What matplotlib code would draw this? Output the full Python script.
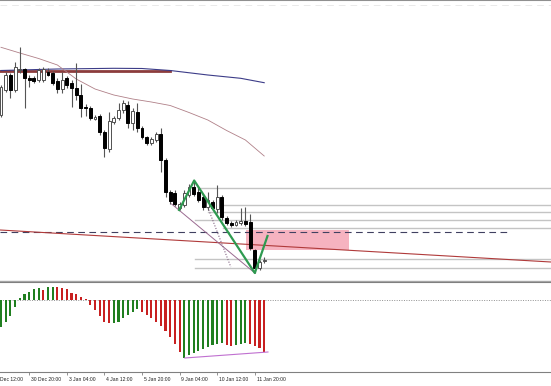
import matplotlib
matplotlib.use("Agg")
import matplotlib.pyplot as plt
import matplotlib.transforms as mtransforms
from matplotlib import font_manager
from matplotlib.patches import Rectangle
import numpy as np

# H4 candles, values (chart units, 0 = top of price pane)
opens = [115, 90, 75, 90, 70, 69, 77.5, 78, 80, 80, 71.5, 73, 81, 89, 78, 83, 88, 95, 107, 108,
         119, 116, 132, 149, 122, 118, 110, 105, 123, 112, 128, 137, 143, 140, 134, 160, 192, 193,
         208, 205, 195, 187, 192, 197, 207, 202, 209, 197, 218, 223, 225, 223, 221, 222, 250, 268, 260]
highs = [85, 72, 73, 62, 47, 68, 75, 76, 68, 67, 68, 71, 78, 72, 76, 80, 63, 84, 104, 106,
         115, 114, 130, 112, 116, 103, 100, 101, 108, 103, 126, 136, 137, 132, 128, 158, 190, 190,
         202, 190, 184, 180, 187, 195, 192, 200, 185, 195, 216, 221, 220, 208, 207, 214, 249, 260, 257]
lows = [117, 92, 98, 92, 73, 108, 87, 83, 82, 82, 76, 85, 93, 93, 88, 107, 100, 117, 116, 120,
        120, 135, 157, 152, 124, 120, 113, 128, 130, 132, 139, 145, 145, 142, 172, 197, 204, 206,
        210, 207, 197, 196, 202, 210, 210, 210, 213, 220, 225, 227, 226, 225, 226, 250, 273, 270, 263]
closes = [87, 75, 90, 67, 69, 78, 80, 81, 70, 69, 75, 83, 89, 80, 85, 88, 95, 108, 108, 118,
          117, 132, 148, 121, 118, 110, 103, 123, 111, 128, 137, 143, 139, 134, 160, 192, 201, 204,
          204, 193, 187, 194, 200, 207, 200, 208, 197, 217, 223, 225, 222, 221, 224, 248, 268, 262, 260]

# oscillator histogram (zero line = 0, up is positive)
osc = [-26.7, -21.7, -16, -7, 2, 6, 8.3, 10.7, 11.7, 10, 13.3, 13.5, 12.7, 11.7, 10.7, 7.3, 6, 3.3, 1,
       -5, -10, -15.7, -21.7, -23, -22.8, -21.7, -18, -15, -11.7, -9, -12, -15, -18, -22, -26, -31,
       -37, -44, -52, -58, -55, -53, -51, -49, -47, -45, -44, -43, -45, -45.7, -45, -44, -43, -44,
       -45.7, -48.3, -51.7]
osc_colors = "GGGGGGGGGRGGRRRRRRRRRRRRGGGGGGRRRRRRRRRGGGGGGGGGRRGGGRRRR"

# moving averages
ma_slow_x = [0, 12, 24, 30, 36, 44, 51, 56]
ma_slow_y = [70.5, 69, 68.3, 68.5, 70.5, 75, 78.3, 82.7]
ma_mid_x = [0, 4, 8, 12, 16, 20, 24, 28, 32, 36, 40, 44, 48, 52, 56]
ma_mid_y = [47.3, 53, 58.5, 65, 79, 89, 95, 99, 102, 105.5, 112.5, 120, 130.5, 140, 156]
flat_x = [-0.2, 36]
flat_y = [70.5, 70.5]

# drawn objects
trend_x = [-0.2, 117]
trend_y = [230, 262]
dash_x = [-0.2, 108.3]
dash_y = [231.5, 231.5]
level_y = [187.5, 204.5, 212, 219.5, 228.3, 259, 268]
level_start = [42.3, 47, 44, 41.3, 47.2, 41.3, 41.3]
zone_x = [52.1, 74.0]
zone_y = [230, 250]
diag_x = [36.3, 54.0]
diag_y = [204, 273]
dot_x = [42.7, 48.9]
dot_y = [191.7, 267]
zz_x = [37.9, 41.1, 54.0, 56.7]
zz_y = [210, 180.5, 273, 236]
div_x = [39.1, 56.8]
div_y = [-58, -52]

label_bars = [-2, 6, 14, 22, 30, 38, 46, 54]
label_text = ["29 Dec 12:00", "30 Dec 20:00", "3 Jan 04:00", "4 Jan 12:00",
              "5 Jan 20:00", "9 Jan 04:00", "10 Jan 12:00", "11 Jan 20:00"]

XMIN, XMAX = -0.213, 117.02

names = {f.name for f in font_manager.fontManager.ttflist}
if "Liberation Sans Narrow" in names:
    lab_font, lab_size = "Liberation Sans Narrow", 4.2
else:
    lab_font, lab_size = "Liberation Sans", 3.6

fig = plt.figure(figsize=(5.51, 3.86), dpi=100)
ax = fig.add_axes([0, 105 / 386, 1, 281 / 386])
ax2 = fig.add_axes([0, 14 / 386, 1, 90 / 386])

# ---- price pane
ax.set_xlim(XMIN, XMAX)
ax.set_ylim(281, 0)
ax.plot([XMIN, XMAX], [5, 5], color="#e6e6e6", lw=0.6, ls=(0, (8, 6)), zorder=1)
for y, x0 in zip(level_y, level_start):
    ax.plot([x0, XMAX], [y, y], color="#c4c4c4", lw=1.0, zorder=1)
ax.add_patch(Rectangle((zone_x[0], zone_y[0]), zone_x[1] - zone_x[0], zone_y[1] - zone_y[0],
                       facecolor="#f6b3c0", edgecolor="none", zorder=1))
ax.plot(dash_x, dash_y, color="#404060", lw=0.8, ls=(0, (6, 4)), zorder=2)
ax.plot(trend_x, trend_y, color="#b03a3a", lw=0.8, zorder=2)
ax.plot(flat_x, flat_y, color="#8c3c3c", lw=2.0, zorder=2)
ax.plot(ma_slow_x, ma_slow_y, color="#3c3c88", lw=0.8, zorder=2)
ax.plot(ma_mid_x, ma_mid_y, color="#b08088", lw=0.6, zorder=2)
ax.plot(diag_x, diag_y, color="#9a6a90", lw=0.7, zorder=2)
ax.plot(dot_x, dot_y, color="#806080", lw=0.8, ls=(0, (1, 1.5)), zorder=2)

idx = np.arange(len(opens))
o = np.array(opens, float)
c = np.array(closes, float)
ax.vlines(idx, highs, lows, color="#555555", lw=0.8, zorder=3)
bull = c <= o
body_top = np.minimum(o, c)
body_h = np.maximum(np.abs(o - c), 1.0)
ax.bar(idx[bull], body_h[bull], bottom=body_top[bull], width=0.62,
       facecolor="white", edgecolor="#505050", lw=0.7, zorder=4)
ax.bar(idx[~bull], body_h[~bull], bottom=body_top[~bull], width=0.62,
       facecolor="black", edgecolor="black", lw=0.7, zorder=4)
ax.plot(zz_x, zz_y, color="#2e9a50", lw=1.6, zorder=5)

for s in ["left", "right"]:
    ax.spines[s].set_visible(False)
ax.spines["top"].set_color("#909090")
ax.spines["top"].set_linewidth(1.5)
ax.spines["bottom"].set_color("#a8a8a8")
ax.spines["bottom"].set_linewidth(1.0)
ax.set_xticks([])
ax.set_yticks([])

# ---- oscillator pane
ax2.set_xlim(XMIN, XMAX)
ax2.set_ylim(-72, 18)
ax2.axhline(0, color="#909090", lw=0.7, ls=(0, (1, 1.5)), zorder=1)
cols = ["#207f20" if k == "G" else "#c82020" for k in osc_colors]
ax2.bar(idx, osc, width=0.45, color=cols, zorder=2)
ax2.plot(div_x, div_y, color="#c070d0", lw=0.8, zorder=3)

for s in ["left", "right"]:
    ax2.spines[s].set_visible(False)
ax2.spines["top"].set_color("#808080")
ax2.spines["bottom"].set_color("#808080")
ax2.set_yticks([])
ax2.set_xticks([b for b in label_bars if b >= 0])
ax2.set_xticklabels([])
ax2.tick_params(axis="x", direction="out", length=2.5, width=0.6, color="#808080")

trans = mtransforms.blended_transform_factory(ax2.transData, ax2.transAxes)
for b, t in zip(label_bars, label_text):
    ax2.text(b + 0.4, -0.085, t, transform=trans, ha="left", va="center",
             fontsize=lab_size, family=lab_font, color="#202020", clip_on=False)

fig.savefig("out.png", dpi=100)
